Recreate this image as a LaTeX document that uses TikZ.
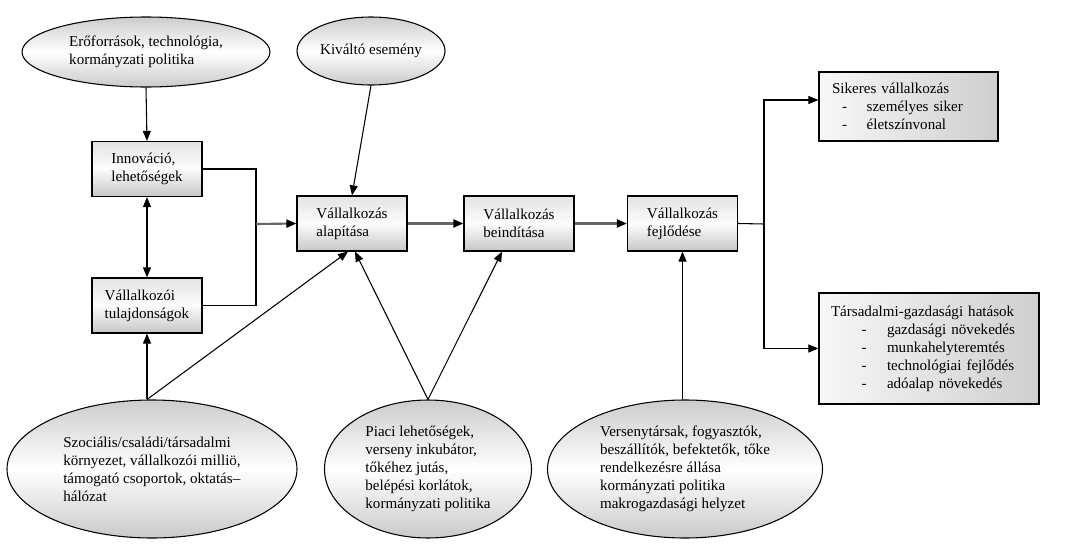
\documentclass[tikz,border=0pt]{standalone}
\usepackage{fontspec}
\setmainfont{Liberation Serif}
\usetikzlibrary{arrows.meta,shapes.geometric,calc}
\begin{document}
\begin{tikzpicture}[x=0.75pt,y=-0.75pt,
  font=\fontsize{11.3}{13.5}\selectfont,
  sbox/.style={draw=black,line width=0.9pt,minimum width=82.5pt,minimum height=41.25pt,inner sep=0pt,align=left,
    top color=gray!22,bottom color=gray!45,middle color=gray!2},
  ell/.style={ellipse,draw=black,line width=0.8pt,inner sep=0pt,align=left,
    top color=gray!40,bottom color=gray!42,middle color=white},
  rbox/.style={draw=black,line width=0.9pt,inner ysep=0pt,align=left,left color=gray!6,right color=gray!38},
  arr/.style={-{Triangle[length=7.5pt,width=6pt]},line width=0.8pt},
  darr/.style={{Triangle[length=7.5pt,width=6pt]}-{Triangle[length=7.5pt,width=6pt]},line width=0.9pt},
  garr/.style={-{Triangle[length=7.5pt,width=6pt,color=black]},line width=1.6pt,draw=black!60},
  plain/.style={line width=0.8pt}]
\useasboundingbox (0,0) rectangle (1068,557);

\node[ell,minimum width=186pt,minimum height=52.5pt] (res) at (146,52) {Erőforrások, technológia,\\kormányzati politika};
\node[ell,minimum width=111pt,minimum height=51pt] (kiv) at (371,51) {Kiváltó esemény};

\node[sbox] (inn) at (147,169) {Innováció,\\lehetőségek};
\node[sbox] (tul) at (147,305.5) {Vállalkozói\\tulajdonságok};
\node[sbox] (alap) at (352,223.5) {Vállalkozás\\alapítása};
\node[sbox] (bein) at (519,223.5) {Vállalkozás\\beindítása};
\node[sbox] (fejl) at (682.5,223.5) {Vállalkozás\\fejlődése};

\node[rbox,text width=114.75pt,inner xsep=9.75pt,minimum height=51.75pt] (sik) at (908.5,106.5)
  {Sikeres vállalkozás\\
   \makebox[26pt][l]{\hspace{7.5pt}-}személyes siker\\
   \makebox[26pt][l]{\hspace{7.5pt}-}életszínvonal};
\node[rbox,text width=147pt,inner xsep=9pt,minimum height=83.25pt] (tar) at (929,348.5)
  {Társadalmi-gazdasági hatások\\
   \makebox[42pt][l]{\hspace{23pt}-}gazdasági növekedés\\
   \makebox[42pt][l]{\hspace{23pt}-}munkahelyteremtés\\
   \makebox[42pt][l]{\hspace{23pt}-}technológiai fejlődés\\
   \makebox[42pt][l]{\hspace{23pt}-}adóalap növekedés};

\node[ell,minimum width=217.5pt,minimum height=103.5pt] (soc) at (152,469)
  {Szociális/családi/társadalmi\\környezet, vállalkozói milliö,\\támogató csoportok, oktatás–\\hálózat};
\node[ell,minimum width=155.25pt,minimum height=103.5pt] (pia) at (428,469)
  {Piaci lehetőségek,\\verseny inkubátor,\\tőkéhez jutás,\\belépési korlátok,\\kormányzati politika};
\node[ell,minimum width=206.25pt,minimum height=103.5pt] (ver) at (685,469)
  {Versenytársak, fogyasztók,\\beszállítók, befektetők, tőke\\rendelkezésre állása\\kormányzati politika\\makrogazdasági helyzet};

\coordinate (brk) at (256,224);
\coordinate (spl) at (764,224);

\draw[arr] (res.south) -- (inn.north);
\draw[arr] (kiv.south) -- (alap.north);
\draw[darr] (inn.south) -- (tul.north);
\draw[arr] (soc.north -| tul.south) -- (tul.south);
\draw[arr] (soc.north -| tul.south) -- ($(alap.south)+(-4,0)$);
\draw[arr] (pia.north) -- ($(alap.south)+(3,0)$);
\draw[arr] (pia.north) -- ($(bein.south)+(-17,0)$);
\draw[arr] (ver.north -| fejl.south) -- (fejl.south);

\draw[plain] (inn.east) -| (brk) |- (tul.east);
\draw[garr] (brk) -- (alap.west);
\draw[garr] (alap.east) -- (bein.west);
\draw[garr] (bein.east) -- (fejl.west);

\draw[plain] (fejl.east) -- (spl);
\draw[arr] (spl) |- ($(sik.west)+(0,-6.5)$);
\draw[arr] (spl) |- (tar.west);
\end{tikzpicture}
\end{document}
